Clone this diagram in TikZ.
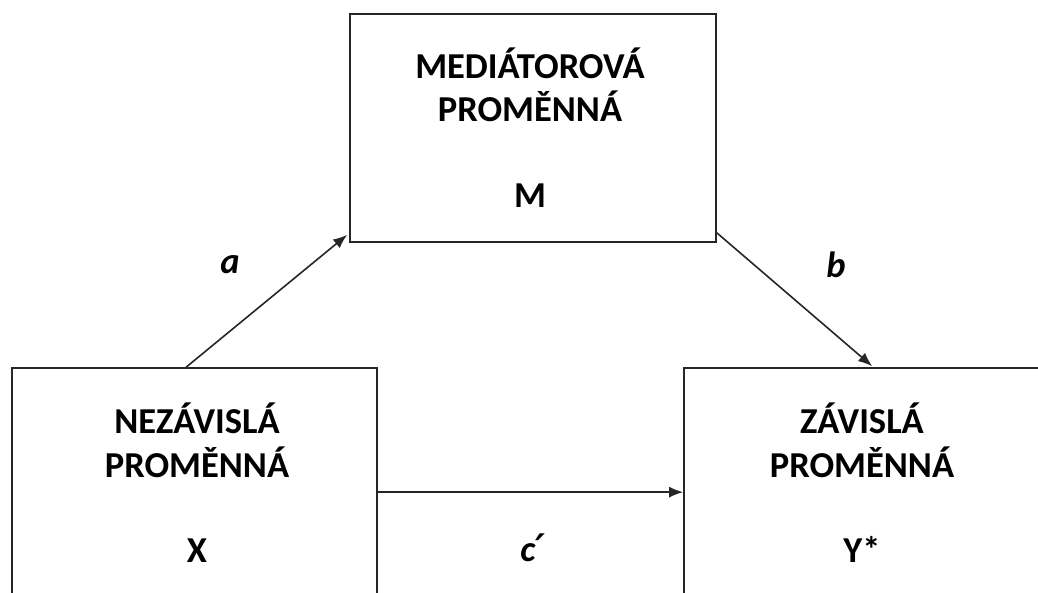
\documentclass[tikz,border=0pt]{standalone}
\usepackage{fontspec}
\setmainfont{Carlito}
\newfontfamily\djv{DejaVu Sans}
\usetikzlibrary{arrows.meta,calc}
\tikzset{
  box/.style={draw=black!85, line width=1.7pt, rectangle, inner sep=0pt},
  lbl/.style={anchor=base, inner sep=0pt, font=\fontsize{36.5}{40}\selectfont\bfseries},
  elbl/.style={anchor=base, inner sep=0pt, font=\fontsize{36.5}{40}\selectfont\bfseries\itshape},
  arr/.style={draw=black!85, line width=1.6pt, -{Latex[length=14pt,width=11pt]}}
}
\begin{document}
\begin{tikzpicture}[x=1pt,y=-1pt]
\useasboundingbox (0,0) rectangle (1038,592);
\fill[white] (0,0) rectangle (1038,592);
\clip (0,0) rectangle (1038,592);
\node[box, minimum width=366pt, minimum height=228pt] (M) at (533,128) {};
\node[box, minimum width=365pt, minimum height=282pt] (X) at (194.5,509) {};
\node[box, minimum width=416pt, minimum height=282pt] (Y) at (892,509) {};
\node[lbl] (m1) at (530,78) {MEDIÁTOROVÁ};
\node[lbl] (m2) at (530,121) {PROMĚNNÁ};
\node[lbl] (m3) at (530,207) {M};
\node[lbl] (x1) at (197,433) {NEZÁVISLÁ};
\node[lbl] (x2) at (197,477) {PROMĚNNÁ};
\node[lbl] (x3) at (197,562) {X};
\node[lbl] (y1) at (862,433) {ZÁVISLÁ};
\node[lbl] (y2) at (862,477) {PROMĚNNÁ};
\node[lbl] (y3) at (862,562) {Y*};
\node[elbl] (la) at (230,273) {a};
\node[elbl] (lb) at (836,277) {b};
\node[elbl] (lc) at (533,561) {c{\djv\fontsize{38}{40}\selectfont\bfseries ′}};
\draw[arr] ($(X.north west)+(175,0)$) -- ($(M.south west)+(-2,-8)$);
\draw[arr] ($(M.south east)+(0,-10)$) -- ($(Y.north west)+(189,-1)$);
\draw[arr] ($(X.north east)+(0,125)$) -- ($(Y.north west)+(0,125)$);
\end{tikzpicture}
\end{document}
